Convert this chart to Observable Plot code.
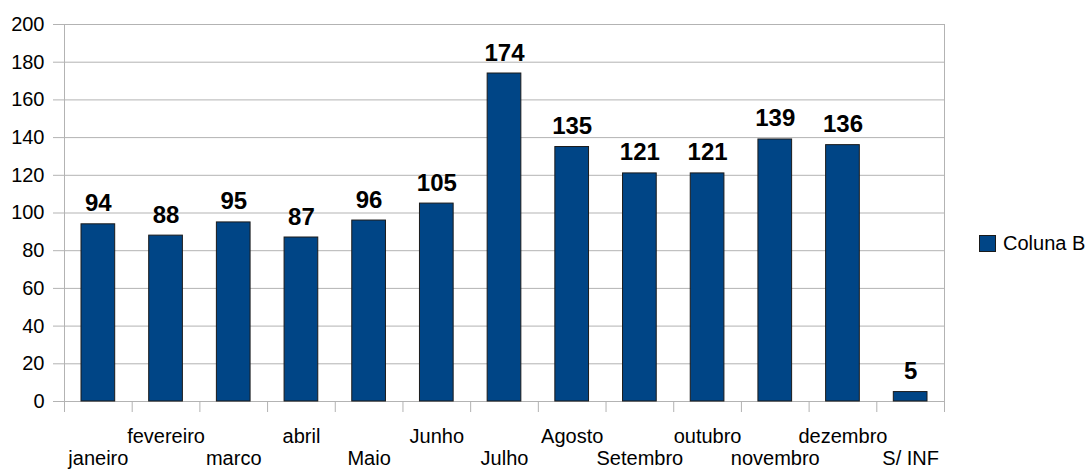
<!DOCTYPE html>
<html>
<head>
<meta charset="utf-8">
<script src="https://cdn.jsdelivr.net/npm/d3@7"></script>
<script src="https://cdn.jsdelivr.net/npm/@observablehq/plot@0.6"></script>
<style>
  html, body { margin: 0; padding: 0; background: #fff; }
  #wrap { position: relative; width: 1090px; height: 470px; font-family: "Liberation Sans", Arial, sans-serif; }
  #legend { position: absolute; left: 979px; top: 232px; display: flex; align-items: center; font-size: 20px; color: #000; white-space: nowrap; }
  #legend .sw { width: 15px; height: 15px; background: #004586; border: 1px solid #1a1a1a; margin-right: 7px; }
</style>
</head>
<body>
<div id="wrap">
  <div id="chart"></div>
  <div id="legend"><span class="sw"></span><span>Coluna B</span></div>
</div>
<script>
// Monthly counts (series "Coluna B")
const months = ["janeiro", "fevereiro", "marco", "abril", "Maio", "Junho", "Julho",
                "Agosto", "Setembro", "outubro", "novembro", "dezembro", "S/ INF"];
const counts = [94, 88, 95, 87, 96, 105, 174, 135, 121, 121, 139, 136, 5];
const yTicks = [0, 20, 40, 60, 80, 100, 120, 140, 160, 180, 200];

const rows = months.map((m, i) => ({month: m, i, value: counts[i]}));
const grid = "#b3b3b3";
const bar = "#004586";

const chart = Plot.plot({
  width: 1090,
  height: 470,
  marginLeft: 64,
  marginRight: 146,
  marginTop: 24,
  marginBottom: 69,
  style: {fontFamily: "'Liberation Sans', Arial, sans-serif", fontSize: "20px", color: "#000", background: "#fff"},
  x: {domain: [0, months.length], axis: null},
  y: {domain: [0, 200], axis: null},
  marks: [
    Plot.gridY(yTicks, {stroke: grid, strokeOpacity: 1}),
    Plot.axisY(yTicks, {tickSize: 11, tickPadding: 9, stroke: grid, strokeOpacity: 1, label: null, fontSize: 20}),
    // plot-area side lines and category boundary ticks
    Plot.ruleX([0, months.length], {stroke: grid}),
    Plot.axisX(d3.range(months.length + 1), {tickSize: 11, tickFormat: () => "", stroke: grid, strokeOpacity: 1, label: null}),
    Plot.rectY(rows, {x1: "i", x2: d => d.i + 1, y: "value", insetLeft: 17, insetRight: 17, fill: bar, stroke: "#1a1a1a", strokeWidth: 1}),
    Plot.text(rows, {x: d => d.i + 0.5, y: "value", text: d => String(d.value), lineAnchor: "bottom", dy: -13, fontSize: 24, fontWeight: "bold", fill: "#000"}),
    // staggered category labels: odd ones on the upper row, even ones below
    Plot.text(rows, {x: d => d.i + 0.5, y: () => 0, text: "month", lineAnchor: "bottom", fontSize: 20, fill: "#000",
      filter: d => d.i % 2 === 1, dy: 41}),
    Plot.text(rows, {x: d => d.i + 0.5, y: () => 0, text: "month", lineAnchor: "bottom", fontSize: 20, fill: "#000",
      filter: d => d.i % 2 === 0, dy: 63})
  ]
});
document.getElementById("chart").append(chart);
</script>
</body>
</html>
